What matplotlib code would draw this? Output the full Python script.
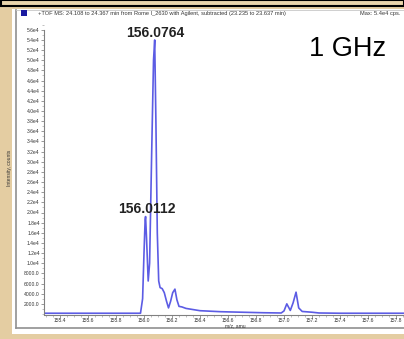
import matplotlib
matplotlib.use("Agg")
import matplotlib.pyplot as plt
from matplotlib.patches import Rectangle
from matplotlib.lines import Line2D
from matplotlib.ticker import FixedLocator, MultipleLocator

plt.rcParams['font.family'] = ['Liberation Sans', 'DejaVu Sans']

# ---- data ----
mz = [155.28, 155.975, 155.99, 156.000, 156.008, 156.0112, 156.018, 156.030, 156.040,
      156.055, 156.068, 156.0764, 156.085, 156.095, 156.105, 156.115, 156.130,
      156.145, 156.160, 156.175, 156.190, 156.205, 156.221, 156.235, 156.250,
      156.27, 156.30, 156.40, 156.55, 156.70, 156.85, 156.98, 157.000, 157.020,
      157.045, 157.065, 157.086, 157.105, 157.13, 157.20, 157.25, 157.40, 157.95]
intensity = [150, 150, 3000, 12000, 18500, 19200, 15000, 6500, 10000,
             32000, 50000, 54000, 38000, 16000, 6500, 5200, 5000,
             4200, 2600, 1200, 2500, 4200, 4900, 2800, 1500,
             1400, 1100, 650, 450, 350, 250, 200, 600, 2000,
             700, 2200, 4300, 1200, 500, 350, 200, 150, 150]

peak_labels = ["156.0764", "156.0112"]
peak_mz = [156.0764, 156.0112]
peak_int = [54000, 19200]

xtick_vals = [155.4, 155.6, 155.8, 156.0, 156.2, 156.4, 156.6, 156.8,
              157.0, 157.2, 157.4, 157.6, 157.8]
xtick_labels = ["155.4", "155.6", "155.8", "156.0", "156.2", "156.4", "156.6",
                "156.8", "157.0", "157.2", "157.4", "157.6", "157.8"]
ytick_vals = [2000, 4000, 6000, 8000, 10000, 12000, 14000, 16000, 18000, 20000,
              22000, 24000, 26000, 28000, 30000, 32000, 34000, 36000, 38000,
              40000, 42000, 44000, 46000, 48000, 50000, 52000, 54000, 56000]
ytick_labels = ["2000.0", "4000.0", "6000.0", "8000.0", "1.0e4", "1.2e4", "1.4e4",
                "1.6e4", "1.8e4", "2.0e4", "2.2e4", "2.4e4", "2.6e4", "2.8e4",
                "3.0e4", "3.2e4", "3.4e4", "3.6e4", "3.8e4", "4.0e4", "4.2e4",
                "4.4e4", "4.6e4", "4.8e4", "5.0e4", "5.2e4", "5.4e4", "5.6e4"]

title_text = "+TOF MS: 24.108 to 24.367 min from Rome I_2630 with Agilent, subtracted (23.235 to 23.637 min)"
max_text = "Max: 5.4e4 cps."
freq_text = "1 GHz"

# ---- figure ----
W, H = 404, 339
fig = plt.figure(figsize=(W / 100, H / 100), dpi=100)
fig.patch.set_facecolor('#E4CDA2')

def fx(px):
    return px / W

def fy(py):
    return 1 - py / H

# top black-bordered strip
fig.add_artist(Rectangle((fx(0.5), fy(6)), fx(403), 6 / H, transform=fig.transFigure,
                         facecolor='#EAD5AC', edgecolor='black', linewidth=1.5, zorder=-5))
# white window
fig.add_artist(Rectangle((fx(12), fy(334)), fx(400), (334 - 9) / H, transform=fig.transFigure,
                         facecolor='white', edgecolor='none', zorder=-5))
# gray inner frame lines
fig.add_artist(Line2D([fx(16), fx(16)], [fy(10), fy(328)], transform=fig.transFigure,
                      color='#909090', linewidth=1.2, zorder=-4))
fig.add_artist(Line2D([fx(16), fx(404)], [fy(328), fy(328)], transform=fig.transFigure,
                      color='#909090', linewidth=1.2, zorder=-4))
fig.add_artist(Line2D([fx(16), fx(404)], [fy(10), fy(10)], transform=fig.transFigure,
                      color='#c8c8c8', linewidth=0.6, zorder=-4))
# small blue square in title bar
fig.add_artist(Rectangle((fx(21), fy(16)), fx(6), 6 / H, transform=fig.transFigure,
                         facecolor='#1a1aa0', edgecolor='none', zorder=-4))
fig.text(fx(38), fy(13.5), title_text, fontsize=4.1, color='#333333', va='center', ha='left')
fig.text(fx(400), fy(13.5), max_text, fontsize=4.1, color='#333333', va='center', ha='right')

# plot axes
ax_left, ax_right, ax_top, ax_bottom = 44, 412, 20, 315
ax = fig.add_axes([fx(ax_left), fy(ax_bottom), (ax_right - ax_left) / W, (ax_bottom - ax_top) / H])
ax.set_zorder(5)
ax.set_facecolor('none')
px_per_mz = 140.0
x0 = 155.4 - (60 - ax_left) / px_per_mz
x1 = x0 + (ax_right - ax_left) / px_per_mz
ax.set_xlim(x0, x1)
counts_per_px = 2000 / 10.15
ax.set_ylim(-1 * counts_per_px, (ax_bottom - ax_top) * counts_per_px - counts_per_px)

ax.plot(mz, intensity, color='#5C5CE4', linewidth=1.2)

for sp in ['top', 'right']:
    ax.spines[sp].set_visible(False)
for sp in ['left', 'bottom']:
    ax.spines[sp].set_color('#808080')
    ax.spines[sp].set_linewidth(0.8)
ax.spines['left'].set_bounds(0, 56000)

ax.xaxis.set_major_locator(FixedLocator(xtick_vals))
ax.set_xticklabels(xtick_labels)
ax.xaxis.set_minor_locator(MultipleLocator(0.05))
ax.yaxis.set_major_locator(FixedLocator(ytick_vals))
ax.set_yticklabels(ytick_labels)
ax.yaxis.set_minor_locator(MultipleLocator(1000))
ax.tick_params(axis='both', which='major', labelsize=3.6, labelcolor='#333333',
               color='#707070', length=2.0, width=0.5, pad=1.0)
ax.tick_params(axis='x', which='major', pad=0.4)
ax.tick_params(axis='both', which='minor', color='#909090', length=1.2, width=0.4)

fig.text(fx(235), fy(325.5), "m/z, amu", fontsize=3.6, color='#333333', ha='center', va='center')
fig.text(fx(10), fy(168), "Intensity, counts", rotation=90, fontsize=3.6,
         color='#333333', ha='center', va='center')

ax.annotate(peak_labels[0], xy=(peak_mz[0], peak_int[0]), xytext=(1, 0),
            textcoords='offset pixels', ha='center', va='bottom',
            fontsize=10, fontweight='bold', color='#222222')
ax.annotate(peak_labels[1], xy=(peak_mz[1], peak_int[1]), xytext=(1, 1),
            textcoords='offset pixels', ha='center', va='bottom',
            fontsize=10, fontweight='bold', color='#222222')

fig.text(fx(348), fy(49), freq_text, fontsize=19.5, color='black', ha='center', va='center')

fig.savefig("out.png", dpi=100, facecolor=fig.get_facecolor())
